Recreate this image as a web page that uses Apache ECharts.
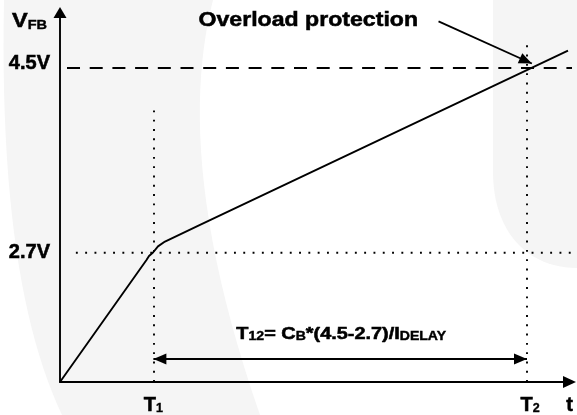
<!DOCTYPE html>
<html><head><meta charset="utf-8">
<script src="https://cdn.jsdelivr.net/npm/echarts@6/dist/echarts.min.js"></script>
<style>html,body{margin:0;padding:0;background:#fff}#c{width:577px;height:415px}</style>
</head><body><div id="c"></div>
<script>
// Schematic units: time so that T1 = 1 and T2 = 5; height on a 0..100 scale
const T1 = 1, T2 = 5;
const X_MAX = 5.455, Y_MAX = 100;
const LEVEL_27 = 35, LEVEL_45 = 85;

// V_FB curve
const curveT = [0, 0.926, 0.953, 0.996, 1.049, 1.124, 1.499, 5.439];
const curveV = [0, 33.0, 34.1, 35.05, 36.7, 38.0, 42.5, 89.7];

// tick labels
const xTickValues = [T1, T2, 5.44];
const xTickMain = ['T', 'T', 't'];
const xTickSub = ['1', '2', ''];
const yTickValues = [LEVEL_27, LEVEL_45];
const yTickLabels = ['2.7V', '4.5V'];

// guide / annotation extents (schematic units)
const dashed45 = [0.075, 5.53];
const dotted27 = [0.17, 5.53];
const t1Top = 74, t2Top = 91.6;
const spanLevel = 6.2;
const overloadFrom = [4.053, 97.6], overloadTo = [5.052, 86.2];

const F = '"Liberation Sans", Arial, sans-serif';
const BLACK = '#000';
const BW = 0.55; // extra text weight

const chart = echarts.init(document.getElementById('c'), null, {renderer: 'canvas'});

const dotted = {color: BLACK, width: 1.9, type: [1.9, 7.4]};
const dashed = {color: BLACK, width: 1.9, type: [13, 9.7]};
const solid = {color: BLACK, width: 1.8, type: 'solid'};

function idxOf(arr, v) { return arr.findIndex(a => Math.abs(a - v) < 1e-6); }

const guideSeries = (xs, level, style) => ({
  type: 'line', data: xs.map(x => [x, level]), symbol: 'none', clip: false,
  silent: true, lineStyle: style, z: 3
});

const lab = (size, extra) => Object.assign({fontSize: size, fontWeight: 'bold', fontFamily: F, color: BLACK,
  textBorderColor: BLACK, textBorderWidth: BW}, extra || {});

const option = {
  backgroundColor: '#fff',
  animation: false,
  grid: {left: 60, right: 7.5, top: 12.5, bottom: 33, containLabel: false, outerBoundsMode: 'none'},
  xAxis: {
    type: 'value', min: 0, max: X_MAX,
    axisLine: {show: true, lineStyle: {color: BLACK, width: 1.9},
      symbol: ['none', 'triangle'], symbolSize: [12, 13]},
    axisTick: {show: false}, splitLine: {show: false},
    axisLabel: {
      customValues: xTickValues, margin: 11, showMinLabel: true, showMaxLabel: true,
      formatter: v => {
        const i = idxOf(xTickValues, v);
        if (i < 0) return '';
        const m = i === 1 ? 'm2' : (i === 2 ? 'm3' : 'm');
        return '{' + m + '|' + xTickMain[i] + '}' + (xTickSub[i] ? '{s|' + xTickSub[i] + '}' : '');
      },
      rich: {
        m: lab(20, {lineHeight: 22, verticalAlign: 'bottom'}),
        m2: lab(20, {lineHeight: 22, verticalAlign: 'bottom', padding: [0, 0, 0, 6]}),
        m3: lab(20, {lineHeight: 22, verticalAlign: 'bottom', padding: [0, 0, 0, 3]}),
        s: lab(12.5, {lineHeight: 11, verticalAlign: 'bottom', textBorderWidth: 0.4})
      }
    }
  },
  yAxis: {
    type: 'value', min: 0, max: Y_MAX,
    axisLine: {show: true, lineStyle: {color: BLACK, width: 1.9},
      symbol: ['none', 'triangle'], symbolSize: [13, 11]},
    axisTick: {show: false}, splitLine: {show: false},
    axisLabel: {
      customValues: yTickValues, margin: 10, showMinLabel: true, showMaxLabel: true,
      formatter: v => {
        const i = idxOf(yTickValues, v);
        if (i < 0) return '';
        return (v === LEVEL_45 ? '{a|' : '{b|') + yTickLabels[i] + '}';
      },
      rich: {
        a: lab(20, {padding: [0, 0, 8, 0]}),
        b: lab(20)
      }
    }
  },
  series: [
    guideSeries(dashed45, LEVEL_45, dashed),
    guideSeries(dotted27, LEVEL_27, dotted),
    {
    type: 'line',
    data: curveT.map((t, i) => [t, curveV[i]]),
    symbol: 'none', smooth: false, clip: false,
    lineStyle: {color: BLACK, width: 1.9},
    z: 5,
    markLine: {
      silent: true, animation: false, symbol: 'none',
      label: {show: false},
      emphasis: {disabled: true},
      data: [
        [{coord: [T1, 0], lineStyle: dotted}, {coord: [T1, t1Top]}],
        [{coord: [T2, 0], lineStyle: dotted}, {coord: [T2, t2Top]}],
        [{coord: [T1, spanLevel], lineStyle: solid, symbol: 'triangle', symbolSize: [11, 13], symbolOffset: [0, 6.5]},
         {coord: [T2, spanLevel], symbol: 'triangle', symbolSize: [11, 13], symbolOffset: [0, 6.5]}],
        [{coord: overloadFrom, lineStyle: solid, symbol: 'none'},
         {coord: overloadTo, symbol: 'triangle', symbolSize: [11, 13], symbolOffset: [0, 6.5]}]
      ]
    }
  }]
};
chart.setOption(option);

const px = p => chart.convertToPixel({gridIndex: 0}, p);
const pTop = px([0, Y_MAX]);
const pFrom = px(overloadFrom);
const pT1 = px([T1, spanLevel]);
const pT2 = px([T2, spanLevel]);

const txt = (size, bw) => ({fontSize: size, fontWeight: 'bold', fontFamily: F, fill: BLACK,
  stroke: BLACK, lineWidth: bw == null ? BW : bw});

// sample a chain of cubic bezier segments into polygon points (decorative watermark)
function bez(start, segs) {
  const pts = [start];
  let p0 = start;
  segs.forEach(s => {
    if (s.length === 1) { pts.push(s[0]); p0 = s[0]; return; }
    const [c1, c2, p3] = s;
    for (let k = 1; k <= 24; k++) {
      const t = k / 24, u = 1 - t;
      pts.push([
        u*u*u*p0[0] + 3*u*u*t*c1[0] + 3*u*t*t*c2[0] + t*t*t*p3[0],
        u*u*u*p0[1] + 3*u*u*t*c1[1] + 3*u*t*t*c2[1] + t*t*t*p3[1]
      ]);
    }
    p0 = p3;
  });
  return pts;
}
const wmLeft = bez([4, 0], [[[213, 0]], [[190, 90], [192, 220], [260, 415]], [[62, 415]], [[22, 330], [0, 200], [4, 0]]]);
const wmRight = bez([493, 0], [[[577, 0]], [[577, 268]], [[528, 268], [493, 232], [493, 172]]]);

chart.setOption({
  graphic: [
    {type: 'polygon', z: -100, silent: true, shape: {points: wmLeft}, style: {fill: '#f5f5f5'}},
    {type: 'polygon', z: -100, silent: true, shape: {points: wmRight}, style: {fill: '#f5f5f5'}},
    // V_FB axis title
    {type: 'text', x: pTop[0] - 48, y: pTop[1] + 7, scaleX: 1.12, z: 10,
      style: {text: '{m|V}{s|FB}', align: 'left', verticalAlign: 'middle',
        rich: {
          m: Object.assign(txt(21), {lineHeight: 24, verticalAlign: 'bottom'}),
          s: Object.assign(txt(13, 0.4), {lineHeight: 11, verticalAlign: 'bottom'})
        }}},
    // Overload protection
    {type: 'text', x: pFrom[0] - 240, y: pFrom[1] - 1.5, scaleX: 1.1, z: 10,
      style: Object.assign(txt(21), {text: 'Overload protection', align: 'left', verticalAlign: 'middle'})},
    // formula
    {type: 'text', x: (pT1[0] + pT2[0]) / 2 + 1, y: pT1[1] - 26, scaleX: 1.17, z: 10,
      style: {text: '{m|T}{s|12}{m|= C}{s|B}{m|*(4.5-2.7)/I}{s|DELAY}', align: 'center', verticalAlign: 'middle',
        rich: {
          m: Object.assign(txt(17), {lineHeight: 20, verticalAlign: 'bottom'}),
          s: Object.assign(txt(12, 0.4), {lineHeight: 12, verticalAlign: 'bottom'})
        }}}
  ]
});
</script></body></html>
